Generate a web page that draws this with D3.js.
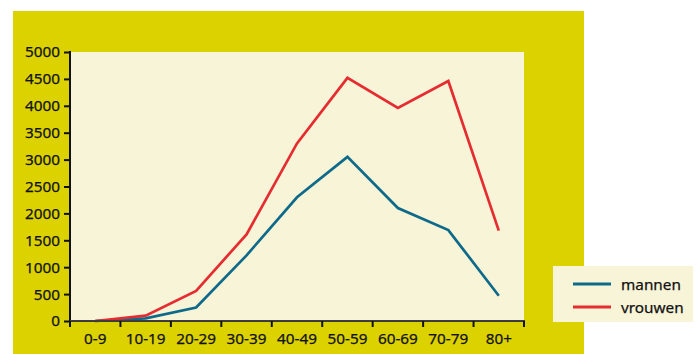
<!DOCTYPE html>
<html>
<head>
<meta charset="utf-8">
<script src="https://cdn.jsdelivr.net/npm/d3@7"></script>
<style>
  html, body { margin: 0; padding: 0; background: #ffffff; }
  svg { display: block; }
  text { font-family: "Noto Sans", "DejaVu Sans", sans-serif; fill: #111; stroke: #111; stroke-width: 0.25px; }
</style>
</head>
<body>
<svg id="chart" width="698" height="354"></svg>
<script>
// Age groups and counts per group
const ageGroups = ["0-9", "10-19", "20-29", "30-39", "40-49", "50-59", "60-69", "70-79", "80+"];
const mannen  = [0, 50, 250, 1220, 2300, 3050, 2100, 1690, 470];
const vrouwen = [0, 100, 560, 1610, 3300, 4520, 3960, 4460, 1680];
const yTicks  = [0, 500, 1000, 1500, 2000, 2500, 3000, 3500, 4000, 4500, 5000];
const seriesNames = ["mannen", "vrouwen"];
const seriesColors = ["#0e6a8a", "#e52d31"];

const svg = d3.select("#chart");
const frame = { left: 13, top: 11, right: 584, bottom: 354 };
const plot = { left: 70, top: 52, right: 524, bottom: 321 };

// Yellow panel and plot background
svg.append("rect")
  .attr("x", frame.left).attr("y", frame.top)
  .attr("width", frame.right - frame.left).attr("height", frame.bottom - frame.top)
  .attr("fill", "#dcd200");
svg.append("rect")
  .attr("x", plot.left).attr("y", plot.top)
  .attr("width", plot.right - plot.left).attr("height", plot.bottom - plot.top)
  .attr("fill", "#f8f4d8");

const x = d3.scaleBand().domain(ageGroups).range([plot.left, plot.right]).padding(0);
const y = d3.scaleLinear().domain([0, 5000]).range([plot.bottom, plot.top]);
const cx = d => x(d) + x.bandwidth() / 2;

// Lines
const line = d3.line().x(d => cx(d.g)).y(d => y(d.v));
[mannen, vrouwen].forEach((vals, i) => {
  svg.append("path")
    .datum(ageGroups.map((g, k) => ({ g, v: vals[k] })))
    .attr("fill", "none")
    .attr("stroke", seriesColors[i])
    .attr("stroke-width", 2.7)
    .attr("stroke-linejoin", "miter")
    .attr("d", line);
});

// Y axis
const yAxis = svg.append("g")
  .attr("transform", `translate(${plot.left},0)`)
  .call(d3.axisLeft(y).tickValues(yTicks).tickSize(6).tickPadding(4).tickFormat(d3.format("d")));
yAxis.select(".domain").remove();
yAxis.selectAll(".tick line").attr("stroke", "#111").attr("stroke-width", 2);
yAxis.selectAll(".tick text")
  .style("font-family", "'Noto Sans', sans-serif")
  .attr("font-size", 15.3).attr("fill", "#111");
svg.append("line")
  .attr("x1", plot.left).attr("x2", plot.left)
  .attr("y1", plot.top - 1).attr("y2", plot.bottom + 5)
  .attr("stroke", "#111").attr("stroke-width", 2);

// X axis: labels centered in each band, ticks at the band edges
const xAxis = svg.append("g")
  .attr("transform", `translate(0,${plot.bottom})`)
  .call(d3.axisBottom(x).tickSize(0).tickPadding(12));
xAxis.select(".domain").remove();
xAxis.selectAll(".tick text")
  .style("font-family", "'Noto Sans', sans-serif")
  .attr("font-size", 15.3).attr("fill", "#111");

svg.append("line")
  .attr("x1", plot.left).attr("x2", plot.right + 1)
  .attr("y1", plot.bottom).attr("y2", plot.bottom)
  .attr("stroke", "#3c3c3c").attr("stroke-width", 2.2);

const edges = ageGroups.map(g => x(g)).concat([x(ageGroups[ageGroups.length - 1]) + x.bandwidth()]);
svg.selectAll(".xedge").data(edges).enter().append("line")
  .attr("class", "xedge")
  .attr("x1", d => d).attr("x2", d => d)
  .attr("y1", plot.bottom).attr("y2", plot.bottom + 6)
  .attr("stroke", "#111").attr("stroke-width", 2);

// Legend
const legend = svg.append("g");
legend.append("rect")
  .attr("x", 553).attr("y", 266).attr("width", 140).attr("height", 56)
  .attr("fill", "#f8f4d8");
seriesNames.forEach((name, i) => {
  const ly = 284 + i * 23;
  legend.append("line")
    .attr("x1", 573).attr("x2", 611).attr("y1", ly).attr("y2", ly)
    .attr("stroke", seriesColors[i]).attr("stroke-width", 3);
  legend.append("text")
    .attr("x", 621).attr("y", ly + 6)
    .attr("font-size", 15.3)
    .text(name);
});
</script>
</body>
</html>
